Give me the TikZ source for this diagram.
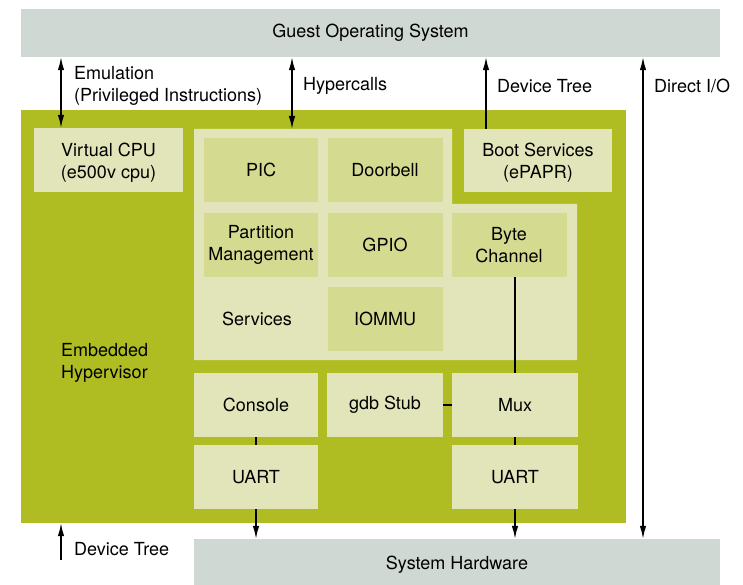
\documentclass[tikz,border=0pt]{standalone}
\usepackage{fontspec}
\setmainfont{TeX Gyre Heros}
\usetikzlibrary{arrows.meta}

\definecolor{osgray}{RGB}{208,216,211}
\definecolor{hypgreen}{RGB}{175,189,35}
\definecolor{palebox}{RGB}{226,229,185}
\definecolor{midbox}{RGB}{212,218,144}

\begin{document}
\begin{tikzpicture}[x=1pt, y=-1pt, font=\fontsize{18}{22}\selectfont,
    blk/.style={inner sep=0pt, align=center},
    layer/.style={blk, fill=osgray},
    pale/.style={blk, fill=palebox},
    unit/.style={blk, fill=midbox, minimum width=115, minimum height=64},
    lbl/.style={anchor=west, align=left, inner sep=0pt},
    link/.style={line width=1.4pt},
    arrow/.style={link, -{Latex[length=13pt, width=6.5pt]}},
    dbl/.style={link, {Latex[length=13pt, width=6.5pt]}-{Latex[length=13pt, width=6.5pt]}}]
  \useasboundingbox (0,0) rectangle (743,585);

  % outer layers
  \node[layer, minimum width=699, minimum height=48] (guest) at (370.5,33) {Guest Operating System};
  \node[blk, fill=hypgreen, minimum width=605, minimum height=413] (hyp) at (323.5,316.5) {};
  \node[layer, minimum width=526, minimum height=46] (hw) at (457,562) {};
  \node[blk] (hwText) at ([yshift=-3pt]hw.center) {System Hardware};

  % hypervisor contents
  \node[pale, minimum width=149, minimum height=64] (vcpu) at (108.5,160) {};
  \node[blk] (vcpuText) at ([yshift=-2.5pt]vcpu.center) {Virtual CPU\\(e500v cpu)};
  \node[pale, minimum width=148, minimum height=63] (boot) at (538,160.5) {};
  \node[blk] (bootText) at ([yshift=-2pt]boot.center) {Boot Services\\(ePAPR)};
  \coordinate (svcNW) at (194,129);
  \fill[palebox] (svcNW) -- (452,129) -- (452,204) -- (577,204) -- (577,360) -- (194,360) -- cycle;
  \node[unit, minimum width=114] (pic) at (261,170) {PIC};
  \node[unit] (bell) at (385,170) {Doorbell};
  \node[unit, minimum width=114] (part) at (261,245) {Partition\\Management};
  \node[unit] (gpio) at (385,245) {GPIO};
  \node[unit] (byte) at (509,245) {Byte\\Channel};
  \node[unit] (iommu) at (385,319) {IOMMU};
  \node[blk] (svc) at (257,319) {Services};
  \node[pale, minimum width=124, minimum height=64] (console) at (256,405) {Console};
  \node[pale, minimum width=116, minimum height=64] (gdb) at (385,405) {gdb Stub};
  \node[pale, minimum width=126, minimum height=64] (mux) at (515,405) {Mux};
  \node[pale, minimum width=124, minimum height=64] (uartL) at (256,477) {UART};
  \node[pale, minimum width=126, minimum height=64] (uartR) at (515,477) {UART};
  \node[lbl] (embed) at (61,363) {Embedded\\Hypervisor};

  % internal links
  \draw[link] (console) -- (uartL);
  \draw[link] (mux.north) -- (mux.north |- byte.south);
  \draw[link] (gdb.east) -- (mux.west);
  \draw[link] (mux) -- (uartR);
  \draw[arrow] (uartL.south) -- (uartL.south |- hw.north);
  \draw[arrow] (uartR.south) -- (uartR.south |- hw.north);

  % interfaces to the guest
  \draw[dbl] (61,0 |- guest.south) -- (61,0 |- vcpu.north);
  \node[lbl] (emu) at (74,86) {Emulation\\(Privileged Instructions)};
  \draw[dbl] (292,0 |- guest.south) -- (292,0 |- svcNW);
  \node[lbl] (hcall) at (303,86) {Hypercalls};
  \draw[arrow] (486,0 |- boot.north) -- (486,0 |- guest.south);
  \node[lbl] (dtree) at (497,86) {Device Tree};
  \draw[dbl] (643,0 |- guest.south) -- (643,0 |- hw.north);
  \node[lbl] (dio) at (654,86) {Direct I/O};

  % device tree into the hypervisor
  \coordinate (dtBase) at (61,560);
  \draw[arrow] (dtBase) -- (dtBase |- hyp.south);
  \node[lbl] (dtree2) at (74,549) {Device Tree};
\end{tikzpicture}
\end{document}
